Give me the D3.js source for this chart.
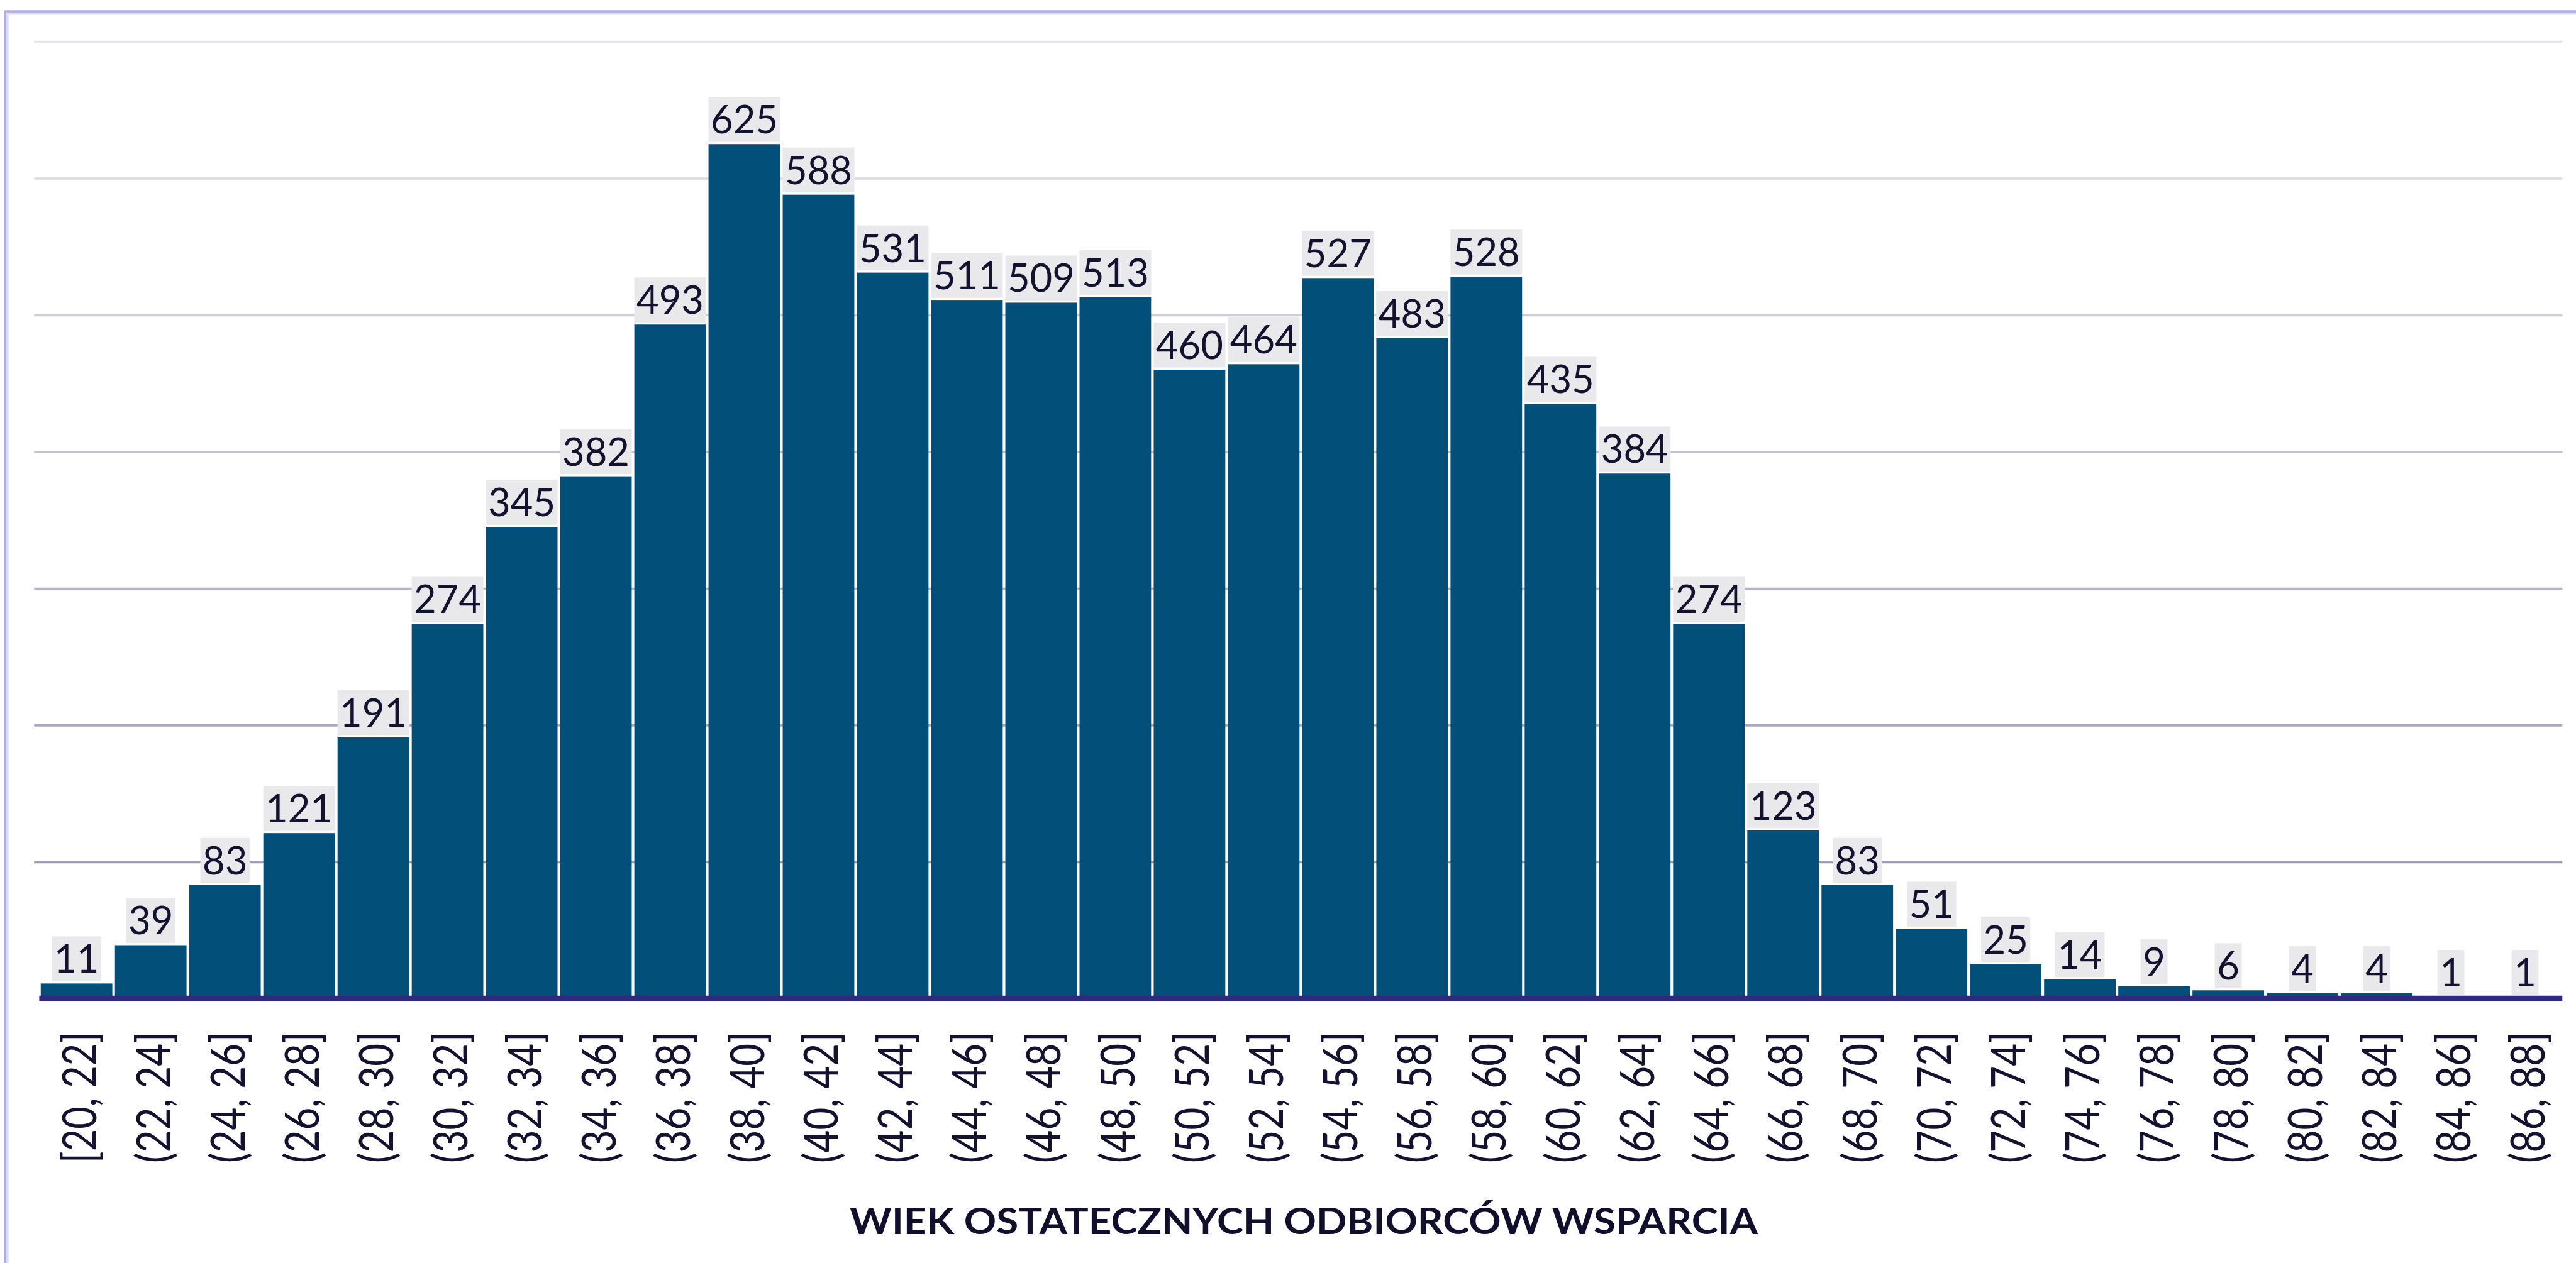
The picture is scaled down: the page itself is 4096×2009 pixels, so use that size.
<!DOCTYPE html>
<html>
<head>
<meta charset="utf-8">
<script src="https://cdn.jsdelivr.net/npm/d3@7"></script>
<style>
	body { margin: 0; background: #fff; }
	svg { display: block; }
</style>
</head>
<body>
<div id="chart"></div>
<script>
const categories = [
	"[20, 22]", "(22, 24]", "(24, 26]", "(26, 28]", "(28, 30]", "(30, 32]", "(32, 34]",
	"(34, 36]", "(36, 38]", "(38, 40]", "(40, 42]", "(42, 44]", "(44, 46]", "(46, 48]",
	"(48, 50]", "(50, 52]", "(52, 54]", "(54, 56]", "(56, 58]", "(58, 60]", "(60, 62]",
	"(62, 64]", "(64, 66]", "(66, 68]", "(68, 70]", "(70, 72]", "(72, 74]", "(74, 76]",
	"(76, 78]", "(78, 80]", "(80, 82]", "(82, 84]", "(84, 86]", "(86, 88]"
];
const counts = [
	11, 39, 83, 121, 191, 274, 345, 382, 493, 625, 588, 531, 511, 509, 513, 460, 464,
	527, 483, 528, 435, 384, 274, 123, 83, 51, 25, 14, 9, 6, 4, 4, 1, 1
];
const gridValues = [100, 200, 300, 400, 500, 600, 700];
const axisTitle = "WIEK OSTATECZNYCH ODBIORCÓW WSPARCIA";

const width = 4096,
	height = 2009,
	textColor = "#15122f";

const data = categories.map((c, i) => ({ cat: c, value: counts[i] }));

const svg = d3.select("#chart")
	.append("svg")
		.attr("width", width)
		.attr("height", height);

// Frame (only top and left edge are visible)

svg.append("rect")
	.attr("x", 8.2).attr("y", 18.1)
	.attr("width", width + 100).attr("height", height + 100)
	.attr("fill", "none")
	.attr("stroke", "#afabe5")
	.attr("stroke-width", 3.6);

svg.append("rect")
	.attr("x", 11.8).attr("y", 21.7)
	.attr("width", width + 100).attr("height", height + 100)
	.attr("fill", "none")
	.attr("stroke", "#dedcf4")
	.attr("stroke-width", 3.6);

// Scales

const x = d3.scaleBand()
	.domain(categories)
	.range([62.4, 4074.3])
	.paddingInner(0.035)
	.paddingOuter(0.02);

const y = d3.scaleLinear()
	.domain([0, 700])
	.range([1588.3, 66.1]);

// Gridlines

const gridColor = d3.scaleLinear()
	.domain([100, 700])
	.range(["#a09cb4", "#e6e6e8"]);

const grid = svg.append("g")
	.attr("transform", "translate(54.3,0)")
	.call(d3.axisLeft(y)
		.tickValues(gridValues)
		.tickSize(-(4074.3 - 54.3))
		.tickFormat(""));

grid.select(".domain").remove();
grid.selectAll(".tick line")
	.attr("stroke", (d) => gridColor(d))
	.attr("stroke-width", 3.6);

// Bars

svg.append("g")
	.selectAll("rect")
		.data(data)
		.enter()
		.append("rect")
			.attr("x", (d) => x(d.cat))
			.attr("y", (d) => y(d.value))
			.attr("width", x.bandwidth())
			.attr("height", (d) => y(0) - y(d.value))
			.attr("fill", "#02507a");

// Baseline

svg.append("line")
	.attr("x1", 62.4).attr("x2", 4074.3)
	.attr("y1", y(0)).attr("y2", y(0))
	.attr("stroke", "#2f2a7e")
	.attr("stroke-width", 9);

// Value labels with grey boxes

const labels = svg.append("g")
	.selectAll("g")
		.data(data)
		.enter()
		.append("g");

labels.append("text")
	.attr("x", (d) => x(d.cat) + x.bandwidth() / 2)
	.attr("y", (d) => y(d.value) - 17)
	.attr("text-anchor", "middle")
	.attr("font-family", "Lato, 'Open Sans', sans-serif")
	.attr("font-size", 61.5)
	.attr("fill", textColor)
	.text((d) => d.value);

labels.each(function(d) {
	const g = d3.select(this);
	const w = g.select("text").node().getBBox().width;
	const cx = x(d.cat) + x.bandwidth() / 2;
	const ty = y(d.value) - 17;
	g.insert("rect", "text")
		.attr("x", cx - w / 2 - 3.5)
		.attr("y", ty - 58)
		.attr("width", w + 7)
		.attr("height", 71.6)
		.attr("fill", "#e9e9eb");
});

// Category axis (rotated labels)

const xAxis = svg.append("g")
	.attr("transform", "translate(0,1641)")
	.call(d3.axisBottom(x).tickSize(0).tickPadding(0));

xAxis.select(".domain").remove();
xAxis.selectAll(".tick text")
	.attr("transform", "rotate(-90)")
	.attr("x", 0)
	.attr("y", 4)
	.attr("dy", "0.36em")
	.attr("text-anchor", "end")
	.attr("font-family", "Lato, 'Open Sans', sans-serif")
	.attr("font-size", 75)
	.attr("fill", textColor)
	.attr("textLength", 209)
	.attr("lengthAdjust", "spacingAndGlyphs");

// Axis title

svg.append("text")
	.attr("x", 2073)
	.attr("y", 1963)
	.attr("text-anchor", "middle")
	.attr("font-family", "Lato, 'Open Sans', sans-serif")
	.attr("font-weight", "bold")
	.attr("font-size", 58)
	.attr("fill", "#120f2c")
	.attr("textLength", 1444)
	.attr("lengthAdjust", "spacingAndGlyphs")
	.text(axisTitle);
</script>
</body>
</html>
